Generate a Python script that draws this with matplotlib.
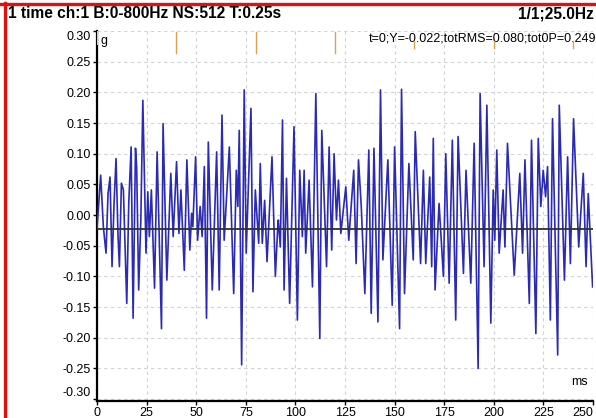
import matplotlib
matplotlib.use('Agg')
import matplotlib.pyplot as plt
from matplotlib.lines import Line2D

plt.rcParams['font.family'] = ['Liberation Sans', 'DejaVu Sans']

# signal (time in ms, acceleration in g)
t_ms = [0.0, 1.85, 3.2, 4.55, 5.56, 6.57, 7.58, 8.59, 9.6, 10.6, 11.3, 12.3, 13.3, 15.0,
        16.0, 17.2, 18.2, 19.4, 20.0, 21.0, 22.1, 23.1, 24.7, 25.6, 26.4, 27.4, 29.0, 30.3,
        32.5, 33.3, 35.2, 37.2, 38.4, 40.1, 41.3, 42.3, 44.0, 45.3, 46.8, 47.7, 48.3, 49.7,
        50.7, 52.0, 53.0, 54.1, 55.2, 56.1, 58.1, 60.3, 61.6, 63.0, 64.1, 66.7, 68.9, 70.2,
        71.0, 71.7, 72.9, 74.2, 75.2, 77.6, 78.6, 79.8, 81.5, 82.3, 83.3, 84.5, 85.7, 88.2,
        89.9, 91.1, 91.4, 92.4, 93.5, 94.3, 95.5, 97.1, 99.3, 101.0, 102.2, 103.5, 104.4,
        105.2, 106.9, 108.6, 110.3, 112.3, 113.3, 115.7, 117.0, 118.3, 119.5, 120.7, 121.7,
        122.9, 125.4, 126.9, 129.4, 130.6, 131.8, 133.2, 135.0, 137.0, 138.2, 139.6, 141.6,
        142.9, 144.1, 146.6, 148.8, 150.0, 152.5, 153.5, 155.0, 157.2, 159.4, 160.4, 163.1,
        164.5, 165.7, 167.7, 168.7, 169.5, 170.4, 172.4, 174.6, 175.8, 177.5, 179.1, 180.8,
        182.0, 184.7, 186.0, 188.4, 190.1, 192.1, 193.1, 195.1, 196.5, 198.5, 199.7, 200.5,
        201.5, 202.7, 204.7, 205.6, 206.9, 210.3, 213.1, 214.5, 215.7, 217.9, 219.0, 221.2,
        222.4, 223.7, 224.9, 226.1, 227.1, 228.5, 229.6, 232.2, 233.0, 235.6, 237.2, 238.6,
        240.2, 242.8, 245.1, 246.5, 247.6, 249.8]
accel_g = [-0.022, 0.065, -0.019, -0.062, 0.035, 0.062, -0.084, 0.019, 0.092, -0.035, -0.084,
           0.052, 0.041, -0.144, 0.019, 0.111, -0.168, 0.109, 0.079, -0.122, -0.008, 0.187,
           -0.062, 0.038, -0.035, 0.041, -0.119, 0.103, -0.185, 0.149, -0.106, 0.068, -0.035,
           0.087, -0.030, 0.041, -0.090, 0.090, -0.057, 0.003, -0.019, 0.095, -0.041, 0.014,
           -0.035, 0.079, -0.168, 0.119, -0.122, 0.103, -0.122, 0.163, -0.041, 0.111, -0.128,
           0.073, 0.014, 0.138, -0.244, 0.204, -0.062, 0.174, -0.125, 0.041, -0.046, 0.084,
           -0.046, 0.024, -0.076, 0.095, -0.100, -0.019, -0.008, -0.052, 0.155, -0.122, 0.060,
           -0.144, 0.144, -0.171, 0.073, -0.035, 0.073, -0.062, 0.057, -0.117, 0.198, -0.201,
           0.138, -0.084, 0.111, -0.057, 0.100, -0.008, 0.057, -0.030, 0.046, -0.041, 0.073,
           -0.079, 0.090, 0.014, -0.128, 0.106, -0.160, 0.109, -0.174, 0.204, -0.073, 0.090,
           -0.147, 0.111, -0.185, 0.205, -0.128, 0.084, -0.073, 0.136, -0.079, 0.073, -0.079,
           0.062, -0.084, 0.125, -0.122, 0.019, -0.100, 0.100, -0.111, 0.122, -0.171, 0.128,
           -0.095, 0.073, -0.111, 0.117, -0.250, 0.198, -0.084, 0.179, -0.176, 0.041, -0.041,
           0.106, -0.062, 0.041, -0.052, 0.117, -0.098, 0.068, -0.062, 0.090, -0.144, 0.122,
           -0.193, 0.125, 0.014, 0.073, 0.030, 0.079, -0.171, 0.157, -0.228, 0.179, -0.106,
           0.095, -0.079, 0.157, -0.052, 0.068, -0.084, 0.035, -0.117]

cursor_y = -0.022
harmonics_ms = [40, 80, 120, 160, 200, 240]
x_ticks = [0, 25, 50, 75, 100, 125, 150, 175, 200, 225, 250]
y_ticks = [-0.30, -0.25, -0.20, -0.15, -0.10, -0.05, 0.00, 0.05, 0.10, 0.15, 0.20, 0.25, 0.30]

fig = plt.figure(figsize=(5.96, 4.18), dpi=100)
ax = fig.add_axes([97 / 596, 17 / 418, 496 / 596, 370 / 418])

ax.plot(t_ms, accel_g, color='#2a2ab4', lw=1.2, zorder=3)
ax.axhline(cursor_y, color='#303030', lw=1.3, zorder=4)

# harmonic markers (25 Hz)
for i, h in enumerate(harmonics_ms):
    if i < 3:
        ax.axvline(h, ymin=0.94, ymax=0.997, color='#e0a050', lw=1.0, zorder=5)
    else:
        ax.axvline(h, ymin=0.954, ymax=0.972, color='#e0a050', lw=1.0, zorder=5)
ax.axvline(0, ymin=0.965, ymax=0.997, color='#f0d030', lw=1.5, zorder=5)

ax.set_xlim(0, 250)
ax.set_ylim(-0.303, 0.2997)
ax.set_xticks(x_ticks)
ax.set_yticks(y_ticks)
ax.set_yticklabels([f'{v:.2f}' for v in y_ticks])
ax.grid(True, color='#d2d2d2', linestyle=(0, (3, 3)), lw=0.8)
ax.set_axisbelow(True)

for s in ['top', 'right']:
    ax.spines[s].set_visible(False)
for s in ['left', 'bottom']:
    ax.spines[s].set_linewidth(1.6)
    ax.spines[s].set_color('black')

ax.tick_params(axis='both', labelsize=9, length=3, width=1, color='black', pad=1.5)
xl = ax.get_xticklabels()
xl[-1].set_horizontalalignment('right')
yl = ax.get_yticklabels()
yl[-1].set_verticalalignment('top')
yl[0].set_verticalalignment('bottom')

ax.text(0.008, 0.99, 'g', transform=ax.transAxes, fontsize=9, va='top', ha='left')
ax.text(0.99, 0.035, 'ms', transform=ax.transAxes, fontsize=9, va='bottom', ha='right')
ax.text(1.006, 0.995, 't=0;Y=-0.022;totRMS=0.080;tot0P=0.249', transform=ax.transAxes,
        fontsize=9, va='top', ha='right')

fig.text(8 / 596, 1 - 14 / 418, '1 time ch:1 B:0-800Hz NS:512 T:0.25s',
         fontsize=11.2, fontweight='bold', va='center', ha='left')
fig.text(594 / 596, 1 - 14 / 418, '1/1;25.0Hz',
         fontsize=11.2, fontweight='bold', va='center', ha='right')

# red frame at top and left
fig.add_artist(Line2D([5 / 596, 5 / 596], [0, 1 - 3 / 418], transform=fig.transFigure,
                      color='#e01010', lw=2.4))
fig.add_artist(Line2D([0, 1], [1 - 4 / 418, 1 - 4 / 418], transform=fig.transFigure,
                      color='#e01010', lw=2.4))

plt.savefig('out.png', dpi=100)
